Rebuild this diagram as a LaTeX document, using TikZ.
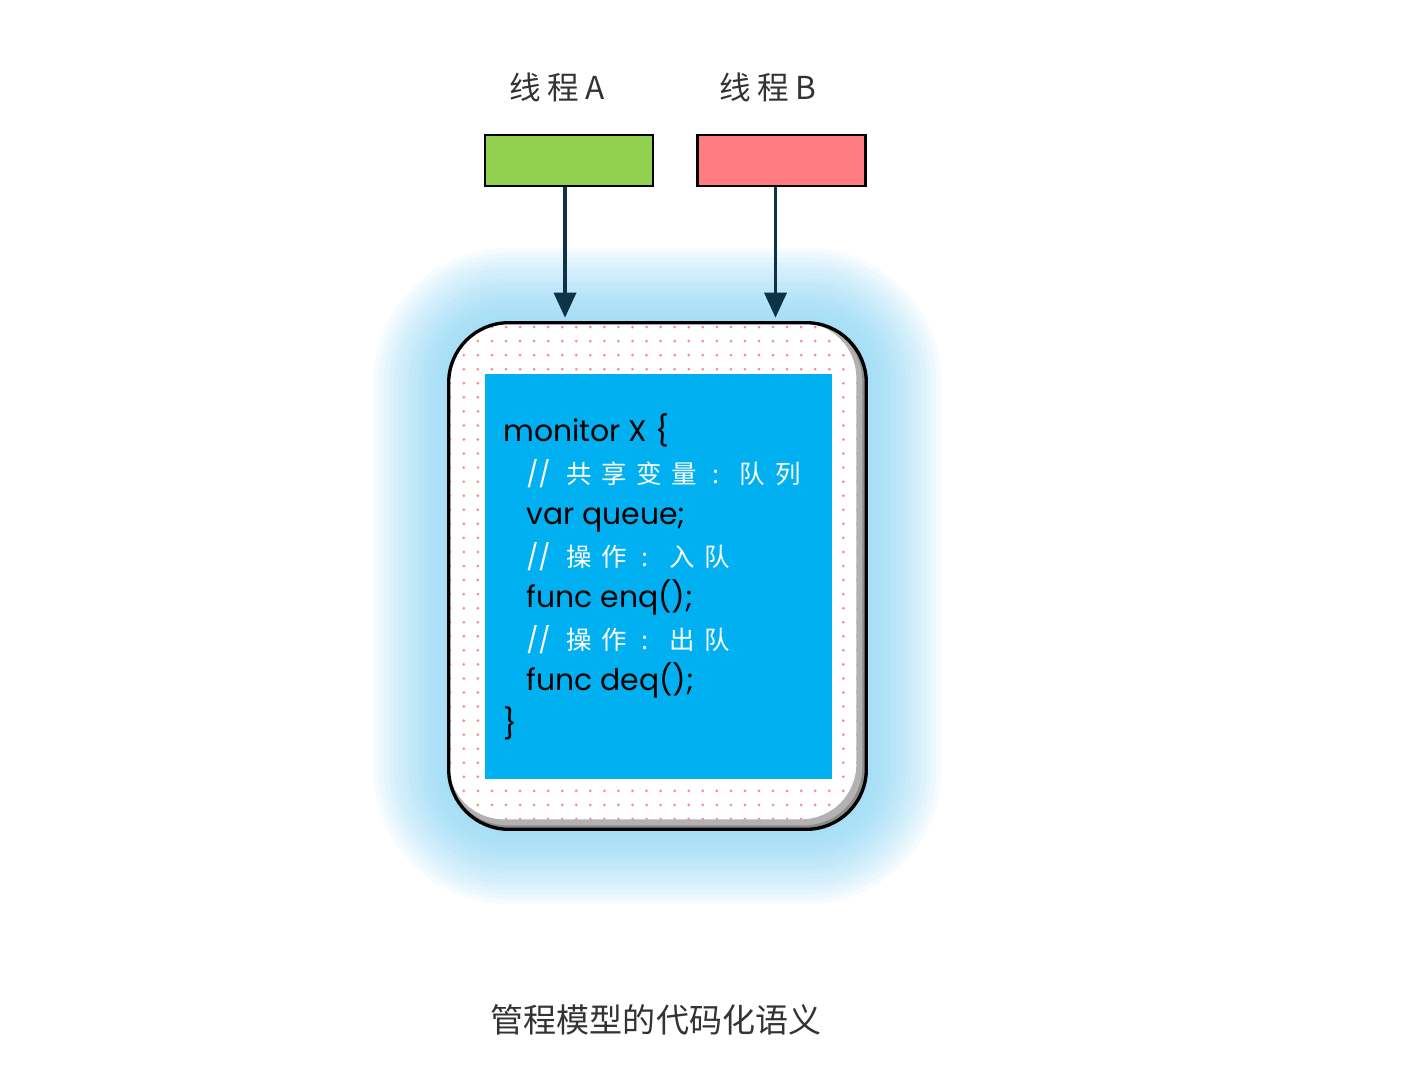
\documentclass[tikz,border=0pt]{standalone}
\usepackage{fontspec}
\setmainfont{Poppins}
\newfontfamily\cjk{Noto Sans CJK SC}
\newfontfamily\cjklabel[LetterSpace=20]{Noto Sans CJK SC}
\newfontfamily\cjkcomment[LetterSpace=38]{Noto Sans CJK SC}
\usepackage{tikz}
\usetikzlibrary{arrows.meta,positioning,calc,backgrounds,patterns.meta}
\definecolor{threadgreen}{RGB}{146,208,80}
\definecolor{threadred}{RGB}{255,124,128}
\definecolor{codeblue}{RGB}{0,176,240}
\definecolor{glowblue}{RGB}{120,205,242}
\definecolor{navy}{RGB}{13,51,73}
\definecolor{darkgray}{RGB}{51,51,51}
\definecolor{dotpink}{RGB}{245,140,140}

\begin{document}
\begin{tikzpicture}[
  x=0.02cm,y=-0.02cm,
  thread/.style={rectangle,draw=black,line width=1.6pt,minimum width=3.36cm,minimum height=1.02cm,inner sep=0pt},
  threadlabel/.style={font=\cjklabel\fontsize{18pt}{20pt}\selectfont,text=darkgray},
  monbox/.style={rectangle,rounded corners=1.2cm,minimum width=8.34cm,minimum height=10.12cm,inner sep=0pt,preaction={fill=white},pattern={Dots[distance=8pt,radius=0.85pt]},pattern color=dotpink},
  codearea/.style={rectangle,fill=codeblue,minimum width=6.94cm,minimum height=8.1cm,inner sep=0pt},
  codeline/.style={anchor=base west,inner sep=0pt,font=\fontsize{17pt}{20pt}\selectfont,text=black},
  comment/.style={codeline,text=white,font=\cjkcomment\fontsize{14.5pt}{16pt}\selectfont},
  caption/.style={font=\cjk\fontsize{18.8pt}{20pt}\selectfont,text=darkgray},
  arrow/.style={-{Triangle[width=0.44cm,length=0.5cm]},draw=navy,line width=2pt,shorten >=0.1cm}
]
\useasboundingbox (0,0) rectangle (1408,1072);

% threads
\node[threadlabel] (labelA) at (557,87) {线程A};
\node[threadlabel] (labelB) at (768,87) {线程B};
\node[thread,fill=threadgreen] (threadA) at (569,160.5) {};
\node[thread,fill=threadred] (threadB) at (781.5,160.5) {};

% monitor box
\node[monbox] (mon) at (657.5,576) {};
\begin{scope}[on background layer]
  \foreach \g [evaluate=\g as \r using 1.2+0.1*\g] in {1,...,15}
    \fill[glowblue,opacity=0.07,rounded corners=\r cm]
      ($(mon.south west)+(-\g*5,\g*5)$) rectangle ($(mon.north east)+(\g*5,-\g*5)$);
\end{scope}
\begin{scope}
  \clip[rounded corners=1.2cm] (mon.south west) rectangle (mon.north east);
  \draw[black!30,line width=0.2cm,rounded corners=1.2cm]
    ($(mon.south west)+(-5,-5)$) rectangle ($(mon.north east)+(-5,-5)$);
  \draw[black!45,line width=0.08cm,rounded corners=1.2cm]
    ($(mon.south west)+(-2,-2)$) rectangle ($(mon.north east)+(-2,-2)$);
\end{scope}
\draw[line width=1.9pt,rounded corners=1.2cm] (mon.south west) rectangle (mon.north east);

\draw[arrow] ([xshift=-0.08cm]threadA.south) -- ([xshift=-0.08cm]threadA.south |- mon.north);
\draw[arrow] ([xshift=-0.12cm]threadB.south) -- ([xshift=-0.12cm]threadB.south |- mon.north);

% code
\node[codearea] (area) at (658.5,576.5) {};
\node[codeline] (line1) at (503,441) {monitor X \{};
\node[comment] (line2) at (526,483) {\textrm{//} 共享变量 : 队列};
\node[codeline] (line3) at (526,524) {var queue;};
\node[comment] (line4) at (526,566) {\textrm{//} 操作 : 入队};
\node[codeline] (line5) at (526,607) {func enq();};
\node[comment] (line6) at (526,649) {\textrm{//} 操作 : 出队};
\node[codeline] (line7) at (526,690) {func deq();};
\node[codeline] (line8) at (503,734) {\}};

\node[caption] (cap) at (656,1020) {管程模型的代码化语义};
\end{tikzpicture}
\end{document}
